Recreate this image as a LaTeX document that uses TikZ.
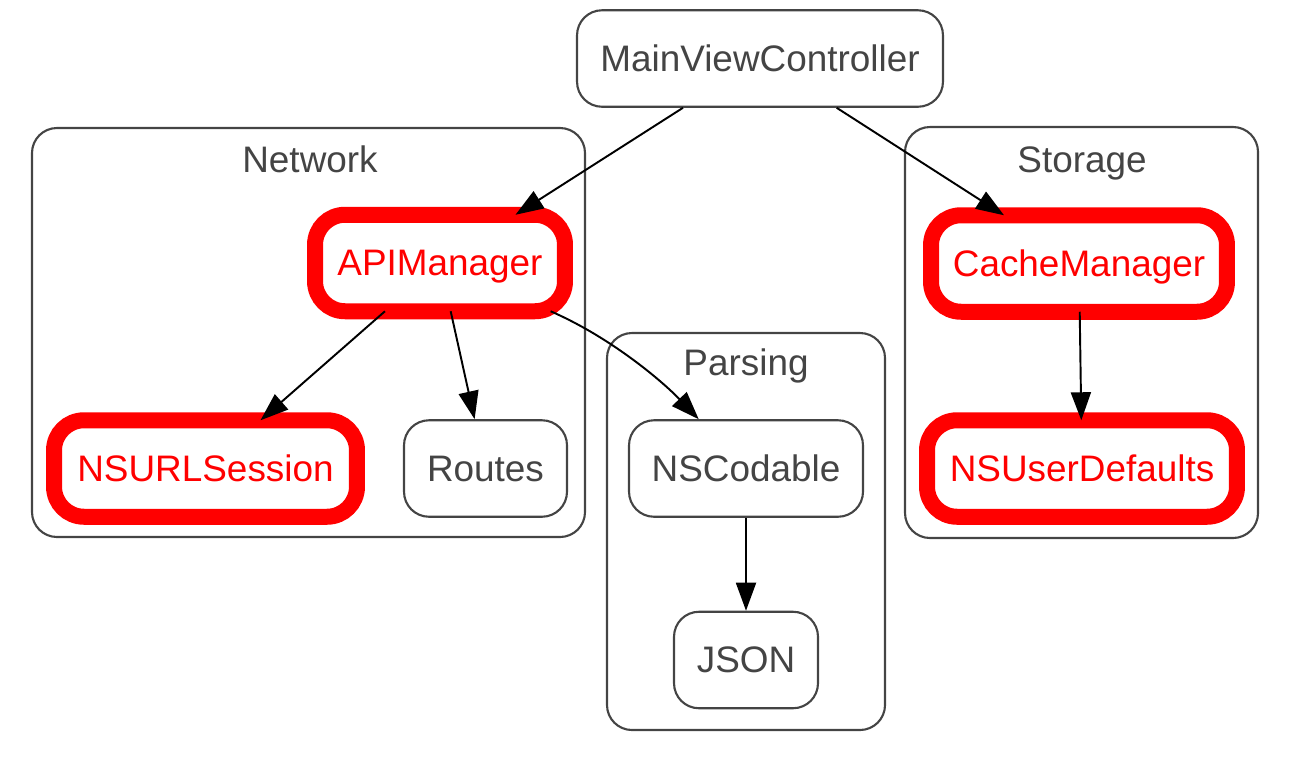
\documentclass[tikz,border=0pt]{standalone}
\usepackage{fontspec}
\setmainfont{Liberation Sans}
\usetikzlibrary{arrows.meta}
\definecolor{nodegray}{HTML}{444444}
\begin{document}
\begin{tikzpicture}[x=0.02cm, y=-0.02cm,
    >={Triangle[length=0.56cm, width=0.4cm]},
    box/.style={draw=nodegray, text=nodegray, rounded corners=0.5cm, line width=1.2pt,
        minimum height=1.93cm, inner sep=0pt, text height=17.5pt, text depth=3pt,
        font=\fontsize{21pt}{25pt}\selectfont},
    redbox/.style={box, draw=red, text=red, line width=0.32cm, rounded corners=0.6cm, outer sep=0pt},
    cluster/.style={draw=nodegray, rounded corners=0.5cm, line width=1.2pt},
    clabel/.style={text=nodegray, inner sep=0pt, text height=17.5pt, text depth=3pt,
        font=\fontsize{21pt}{25pt}\selectfont},
    link/.style={->, line width=1.1pt, black}]
    \useasboundingbox (0,0) rectangle (1290,762);

    % clusters
    \draw[cluster] (32,128) rectangle (585,537);
    \draw[cluster] (607,333) rectangle (885,730);
    \draw[cluster] (905,127) rectangle (1258,538);
    \node[clabel] (netLabel) at (310,160) {Network};
    \node[clabel] (parseLabel) at (746,363) {Parsing};
    \node[clabel] (storeLabel) at (1082,160) {Storage};

    \node[box, minimum width=7.32cm] (mainVC) at (760,58.5) {MainViewController};
    \node[redbox, minimum width=5cm] (apiManager) at (440,263) {APIManager};
    \node[redbox, minimum width=6.06cm] (urlSession) at (205.5,468.5) {NSURLSession};
    \node[box, minimum width=3.26cm] (routes) at (485.5,468.5) {Routes};
    \node[box, minimum width=4.68cm] (codable) at (746,468.5) {NSCodable};
    \node[box, minimum width=2.88cm] (json) at (746,660) {JSON};
    \node[redbox, minimum width=5.92cm] (cacheManager) at (1079,263.5) {CacheManager};
    \node[redbox, minimum width=6.2cm] (userDefaults) at (1082,468.5) {NSUserDefaults};

    \draw[link] (mainVC) -- (apiManager);
    \draw[link] (mainVC) -- (cacheManager);
    \draw[link] (apiManager) -- (urlSession);
    \draw[link] (apiManager) -- (routes);
    \draw[link] (apiManager) .. controls (612,338) and (663,382) .. (codable);
    \draw[link] (cacheManager) -- (userDefaults);
    \draw[link] (codable) -- (json);
\end{tikzpicture}
\end{document}
